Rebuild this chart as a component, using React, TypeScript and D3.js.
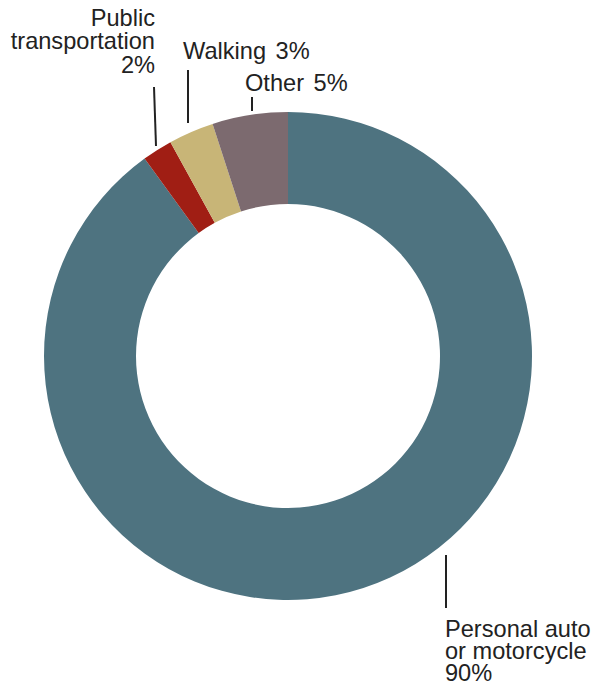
import React from "react";
import * as d3 from "d3";

const categories = ["Personal auto or motorcycle", "Public transportation", "Walking", "Other"];
const shares = [90, 2, 3, 5];
const colors = ["#4E7380", "#A01E14", "#C8B577", "#7C6A6F"];

const W = 594;
const H = 686;
const CX = 288;
const CY = 356;
const R_OUT = 244;
const R_IN = 152;
const FONT = "'Liberation Sans', Arial, Helvetica, sans-serif";
const FS = 23.6;

type Label = {
  lines: string[][];
  x: number;
  y: number;
  lh: number;
  anchor: "start" | "end";
  line: [number, number, number, number];
};

const labels: Label[] = [
  { lines: [["Personal auto"], ["or motorcycle"], ["90%"]], x: 445, y: 637, lh: 22, anchor: "start", line: [446, 555, 446, 608] },
  { lines: [["Public"], ["transportation"], ["2%"]], x: 155, y: 26, lh: 23.3, anchor: "end", line: [154, 87, 156, 146] },
  { lines: [["Walking", "3%"]], x: 183, y: 59, lh: 22, anchor: "start", line: [188, 70, 188, 123] },
  { lines: [["Other", "5%"]], x: 245, y: 91, lh: 22, anchor: "start", line: [252, 97, 252, 111] },
];

export default function App() {
  const data = categories.map((c, i) => ({ c, v: shares[i], color: colors[i] }));
  const pie = d3.pie<{ c: string; v: number; color: string }>().value((d) => d.v).sort(null);
  const arcs = pie(data);
  const arc = d3.arc<d3.PieArcDatum<{ c: string; v: number; color: string }>>().innerRadius(R_IN).outerRadius(R_OUT);

  return (
    <svg width={W} height={H} style={{ position: "absolute", left: 0, top: 0, background: "#fff" }}>
      <g transform={`translate(${CX},${CY})`}>
        {arcs.map((a, i) => (
          <path key={i} d={arc(a) || ""} fill={a.data.color} stroke="none" />
        ))}
      </g>
      {labels.map((l, i) => (
        <g key={i}>
          <line x1={l.line[0]} y1={l.line[1]} x2={l.line[2]} y2={l.line[3]} stroke="#222" strokeWidth={2} />
          <text x={l.x} y={l.y} textAnchor={l.anchor} fontFamily={FONT} fontSize={FS} fill="#222">
            {l.lines.map((parts, j) =>
              parts.map((t, k) => (
                <tspan key={`${j}-${k}`} x={k === 0 ? l.x : undefined} y={k === 0 ? l.y + j * l.lh : undefined} dx={k > 0 ? 9.5 : undefined}>
                  {t}
                </tspan>
              ))
            )}
          </text>
        </g>
      ))}
    </svg>
  );
}
